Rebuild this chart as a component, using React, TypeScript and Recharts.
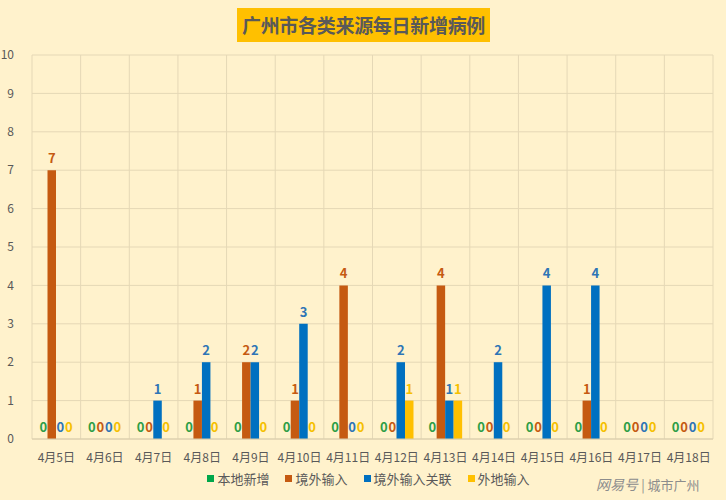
import React from 'react';
import { BarChart, Bar, XAxis, YAxis, CartesianGrid, Legend, LabelList } from 'recharts';

const days = ['4月5日', '4月6日', '4月7日', '4月8日', '4月9日', '4月10日', '4月11日', '4月12日', '4月13日', '4月14日', '4月15日', '4月16日', '4月17日', '4月18日'];
const local = [0, 0, 0, 0, 0, 0, 0, 0, 0, 0, 0, 0, 0, 0];
const imported = [7, 0, 0, 1, 2, 1, 4, 0, 4, 0, 0, 1, 0, 0];
const importedLinked = [0, 0, 1, 2, 2, 3, 0, 2, 1, 2, 4, 4, 0, 0];
const otherRegion = [0, 0, 0, 0, 0, 0, 0, 1, 1, 0, 0, 0, 0, 0];
const yTicks = [0, 1, 2, 3, 4, 5, 6, 7, 8, 9, 10];

const series = [
  { key: 'local', name: '本地新增', color: '#00A74A', label: '#2E9E47' },
  { key: 'imported', name: '境外输入', color: '#C55A11', label: '#C55A11' },
  { key: 'importedLinked', name: '境外输入关联', color: '#0070C0', label: '#2E75B6' },
  { key: 'otherRegion', name: '外地输入', color: '#FFC000', label: '#F5C000' },
];

const data = days.map((d, i) => ({
  day: d,
  local: local[i],
  imported: imported[i],
  importedLinked: importedLinked[i],
  otherRegion: otherRegion[i],
}));

const font = '"Noto Sans CJK SC", "Noto Sans", sans-serif';
const grey = '#595959';
const gridColor = '#E5D8B6';

const LegendContent = () => (
  <div style={{ display: 'flex', justifyContent: 'center', fontFamily: font, fontSize: 13, color: grey, paddingLeft: 24 }}>
    {series.map((s) => (
      <span key={s.key} style={{ display: 'inline-flex', alignItems: 'center', margin: '0 8px' }}>
        <span style={{ width: 7, height: 7, background: s.color, display: 'inline-block', marginRight: 3 }} />
        {s.name}
      </span>
    ))}
  </div>
);

const makeLabel = (color: string) => (props: any) => {
  const { x, y, width, value } = props;
  if (value === undefined || value === null) return null;
  return (
    <text
      x={Number(x) + Number(width) / 2}
      y={Number(y) - 7}
      textAnchor="middle"
      fill={color}
      fontSize={13}
      fontWeight="bold"
      fontFamily={font}
    >
      {value}
    </text>
  );
};

export default function App() {
  return (
    <div style={{ position: 'absolute', left: 0, top: 0, width: 726, height: 500, background: '#FFF2CC', fontFamily: font, overflow: 'hidden' }}>
      <BarChart
        width={726}
        height={500}
        data={data}
        margin={{ top: 55, right: 13, left: 0, bottom: 7 }}
        barGap={0}
        barCategoryGap="15%"
      >
        <CartesianGrid
          stroke={gridColor}
          verticalCoordinatesGenerator={({ offset }: any) =>
            days.map((_, i) => offset.left + (i * offset.width) / days.length).concat(offset.left + offset.width)
          }
        />
        <XAxis
          dataKey="day"
          height={30}
          axisLine={{ stroke: '#D9CCAA' }}
          tickLine={false}
          tick={{ fill: grey, fontSize: 12, fontFamily: font }}
          tickMargin={8}
          interval={0}
        />
        <YAxis
          width={32}
          domain={[0, 10]}
          ticks={yTicks}
          axisLine={false}
          tickLine={false}
          tickMargin={12}
          tick={{ fill: grey, fontSize: 12, fontFamily: font }}
        />
        <Legend verticalAlign="bottom" height={24} content={<LegendContent />} />
        {series.map((s) => (
          <Bar key={s.key} dataKey={s.key} name={s.name} fill={s.color} barSize={8.5} minPointSize={0.01} isAnimationActive={false}>
            <LabelList dataKey={s.key} content={makeLabel(s.label)} />
          </Bar>
        ))}
      </BarChart>
      <div
        style={{
          position: 'absolute',
          left: 237,
          top: 8,
          width: 253,
          height: 34,
          background: '#FFC000',
          color: grey,
          fontWeight: 'bold',
          fontSize: 19,
          lineHeight: '34px',
          textAlign: 'center',
          whiteSpace: 'nowrap',
          letterSpacing: -0.3,
        }}
      >
        广州市各类来源每日新增病例
      </div>
      <div style={{ position: 'absolute', left: 596, top: 474, fontSize: 14, color: '#8C8C8C', fontStyle: 'italic' }}>
        网易号 <span style={{ fontStyle: 'normal', fontSize: 13 }}>| 城市广州</span>
      </div>
    </div>
  );
}
